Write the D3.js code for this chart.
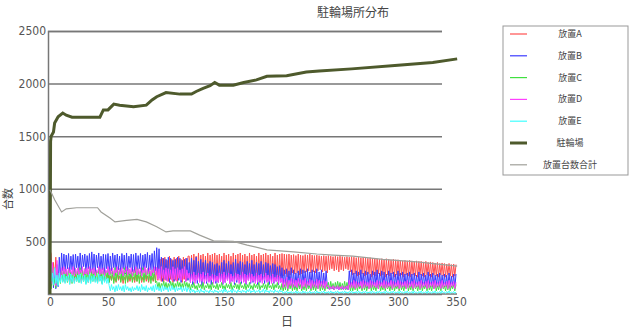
<!DOCTYPE html>
<meta charset="utf-8">
<script src="https://d3js.org/d3.v7.min.js"></script>
<style>
body { margin: 0; background: #fff; }
text { font-family: "Noto Sans CJK JP", "Liberation Sans", sans-serif; fill: #444; }
.tick text { font-family: "Liberation Sans Narrow", "DejaVu Sans Condensed", "Liberation Sans", sans-serif; font-size: 12px; fill: #555; }
.line { fill: none; }
</style>
<body>
<script>

// daily values, day 0 .. 350 (index = day)
var seriesA = [420,380,150,300,120,350,100,200,140,180,
  180,120,170,110,190,130,160,100,180,120,
  170,110,190,130,160,120,180,110,170,130,
  190,120,160,110,180,130,170,140,180,120,
  160,110,190,130,170,100,180,120,160,140,
  190,110,170,130,180,120,160,110,190,130,
  170,120,180,100,160,130,190,110,170,120,
  180,130,160,110,190,120,170,140,180,110,
  160,130,190,120,170,110,180,130,160,120,
  190,110,250,130,300,
  330,120,340,110,350,130,320,120,360,140,330,110,350,130,340,120,360,150,330,110,350,140,340,130,360,
  360,150,370,140,380,160,360,150,390,140,
  370,160,380,150,360,170,390,150,370,140,
  380,160,390,150,370,160,380,170,360,150,
  390,140,370,160,380,150,360,170,390,150,
  370,140,380,160,390,150,370,160,380,170,
  360,150,390,140,370,160,380,150,360,170,
  390,150,370,140,380,160,390,150,370,160,
  380,170,360,150,390,140,370,160,380,150,
  385,170,380,190,375,160,380,180,370,200,
  375,190,365,200,380,180,370,190,365,200,
  375,210,370,220,380,200,370,210,365,200,
  370,220,365,230,360,210,365,220,360,200,
  365,230,360,240,355,220,360,230,355,210,
  360,230,355,220,350,240,355,230,350,210,
  355,180,350,190,345,170,350,180,345,190,
  350,170,345,180,340,190,345,160,340,180,
  340,170,335,190,330,170,335,180,330,160,
  335,180,330,170,325,190,330,160,325,180,
  325,170,320,180,315,160,320,180,315,170,
  320,160,315,180,310,170,315,160,310,180,
  310,170,305,160,310,180,300,170,305,160,
  300,180,295,170,300,160,290,180,295,170,
  290,160,285,180,290,170,280,160,285,170,
  280];

var seriesB = [300,80,250,60,200,50,280,70,350,150,
  390,220,380,210,370,240,385,200,360,230,
  375,190,380,250,360,210,390,220,370,260,
  380,200,365,240,385,210,400,230,380,200,
  370,250,390,210,360,230,380,190,375,240,
  385,200,360,220,390,250,370,210,380,230,
  360,200,385,240,370,190,390,220,360,250,
  380,210,375,200,390,230,365,240,385,200,
  370,220,380,250,395,210,370,230,385,200,
  410,220,440,180,430,
  150,350,120,340,140,330,130,350,110,340,150,320,120,330,140,350,130,340,110,320,150,330,120,340,130,
  300,110,340,90,320,130,350,100,310,120,
  330,80,300,140,320,100,290,120,310,90,
  300,130,280,100,290,110,270,120,300,90,
  320,110,290,130,310,100,280,120,300,90,
  330,110,290,140,310,100,300,120,280,90,
  310,130,290,100,320,110,280,120,300,90,
  290,110,310,130,280,100,300,120,290,90,
  270,110,290,100,280,120,260,90,270,110,
  250,70,230,90,240,60,220,80,250,70,
  230,60,200,80,220,70,240,60,230,90,
  220,60,240,70,210,80,230,60,220,70,
  240,60,210,80,230,70,200,60,220,80,
  60,40,70,50,60,40,70,50,60,40,
  70,50,60,40,70,50,60,40,220,80,
  230,70,200,60,220,80,210,60,230,70,
  200,80,220,60,210,70,190,60,220,80,
  210,70,230,60,200,80,220,70,210,60,
  190,80,220,70,200,60,210,80,190,70,
  220,60,200,80,210,70,190,60,200,80,
  210,70,190,60,200,80,180,70,210,60,
  190,80,200,70,180,60,210,80,190,70,
  200,60,180,80,190,70,200,60,180,80,
  190,70,180,60,200,80,170,70,190,60,
  190];

var seriesC = [200,50,250,80,150,60,220,90,180,100,
  230,120,250,140,220,110,240,130,210,100,
  230,150,240,120,220,110,250,140,230,120,
  240,100,220,130,250,110,230,120,240,140,
  220,110,250,130,230,100,240,120,220,150,
  230,110,240,130,220,100,250,120,230,140,
  240,110,220,130,250,100,230,120,240,140,
  220,110,230,130,250,120,240,100,220,130,
  250,110,230,140,240,120,220,100,230,130,
  240,110,120,60,110,
  50,100,70,120,60,110,50,100,60,120,70,110,50,100,60,120,70,110,50,100,60,120,70,110,60,
  100,40,90,60,110,50,80,40,100,60,
  90,50,110,40,80,60,100,50,90,40,
  110,60,80,50,100,40,90,60,110,50,
  80,40,100,60,90,50,110,40,80,60,
  100,50,90,40,110,60,80,50,100,40,
  90,60,110,50,80,40,100,60,90,50,
  110,40,80,60,100,50,90,40,110,60,
  80,50,100,40,90,60,110,50,80,40,
  100,30,90,40,120,30,110,50,100,30,
  90,40,80,30,100,50,90,30,80,40,
  100,30,90,50,80,30,100,40,90,30,
  80,50,100,30,90,40,80,30,100,50,
  110,40,120,50,100,40,110,60,120,50,
  110,40,100,50,120,40,110,50,90,30,
  90,30,80,40,100,30,90,50,80,30,
  100,40,90,30,80,50,100,30,90,40,
  80,30,100,50,90,30,80,40,100,30,
  90,50,80,30,90,40,100,30,80,50,
  90,30,100,40,80,30,90,50,100,30,
  80,40,90,30,100,50,80,30,90,40,
  100,30,80,50,90,30,100,40,80,30,
  90,50,100,30,80,40,90,30,100,50,
  80,30,90,40,100,30,80,50,90,30,
  90];

var seriesD = [350,100,300,150,250,80,320,120,200,150,
  250,180,260,190,240,170,250,200,230,180,
  260,170,240,190,250,180,230,200,260,170,
  240,190,250,180,260,200,240,190,250,170,
  230,200,260,180,240,190,250,170,230,200,
  260,180,240,190,250,170,230,200,260,180,
  240,190,250,170,230,200,260,180,240,190,
  250,170,230,200,260,180,240,190,250,170,
  230,200,260,180,240,190,250,170,230,200,
  260,180,250,140,240,
  130,260,150,230,140,250,120,240,150,230,130,260,140,240,120,250,150,230,130,240,140,260,120,230,150,
  200,110,190,120,210,100,180,130,200,110,
  190,120,210,100,180,120,200,110,170,130,
  190,100,180,120,170,110,200,120,190,100,
  210,110,180,130,200,100,190,120,170,110,
  200,130,190,100,180,120,210,110,190,100,
  180,130,200,110,190,120,170,100,200,110,
  180,120,190,100,170,130,200,110,180,120,
  170,100,190,110,160,120,180,100,170,110,
  150,60,140,70,160,50,130,80,150,60,
  140,70,130,60,150,80,140,50,130,70,
  150,60,120,80,140,50,130,70,120,60,
  140,50,130,70,120,60,130,50,120,70,
  80,40,70,50,80,40,70,50,80,40,
  70,50,80,40,70,50,80,40,130,60,
  110,60,130,50,120,60,110,70,120,50,
  130,60,120,70,110,50,130,60,120,70,
  110,60,130,50,120,70,110,60,130,50,
  120,60,110,70,130,50,120,60,110,70,
  130,50,120,60,110,70,120,50,130,60,
  110,70,120,50,130,60,110,70,120,50,
  130,60,110,70,120,50,130,60,110,70,
  120,50,130,60,110,70,120,50,130,60,
  110,70,120,50,130,60,110,70,120,50,
  110];

var seriesE = [600,120,200,90,250,100,180,80,200,110,
  180,110,190,100,170,120,180,90,190,110,
  170,100,160,120,180,110,190,100,170,120,
  180,90,160,110,190,100,170,120,180,110,
  160,100,190,120,170,90,180,110,160,100,
  150,
  80,30,90,40,70,20,80,30,90,40,
  70,30,80,20,90,40,70,30,60,20,
  70,30,60,40,80,30,70,20,90,40,
  70,30,80,20,60,40,70,30,80,20,
  90,40,70,30,60,20,80,30,70,40,
  60,20,70,30,80,40,60,20,70,30,
  60,40,70,20,60,30,70,20,60,
  40,10,50,20,40,10,30,20,40,10,
  50,20,30,10,40,20,30,10,40,20,
  30,10,40,20,30,10,30,20,40,10,
  50,20,40,10,30,20,40,10,50,20,
  30,10,40,20,30,10,40,20,30,10,
  40,20,50,10,30,20,40,10,30,20,
  40,10,30,20,50,10,40,20,30,10,
  40,20,30,10,40,20,30,10,40,20,
  30,5,20,10,30,5,20,10,25,5,
  20,10,30,5,25,10,20,5,30,10,
  25,5,20,10,30,5,20,10,25,5,
  30,10,20,5,25,10,30,5,20,10,
  25,5,30,10,20,5,25,10,30,5,
  20,10,25,5,30,10,20,5,25,10,
  30,5,20,10,25,5,30,10,20,5,
  25,10,30,5,20,10,25,5,30,10,
  20,5,25,10,30,5,20,10,25,5,
  30,10,20,5,25,10,30,5,20,10,
  25,5,30,10,20,5,25,10,30,5,
  20,10,25,5,30,10,20,5,25,10,
  30,5,20,10,25,5,30,10,20,5,
  25,10,30,5,20,10,25,5,30,10,
  20,5,25,10,30,5,20,10,25,5,
  20];

// smoother lines, read at their break points
var parkDays = [0,0.5,1,3,4,7,11,14,19,43,46,50,55,60,72,83,88,92,100,112,122,126,132,138,142,146,158,167,178,187,204,221,232,260,300,330,351];
var parkVals = [0,1450,1500,1540,1625,1685,1720,1700,1680,1680,1750,1750,1805,1795,1780,1795,1845,1875,1915,1900,1900,1925,1955,1980,2010,1985,1985,2010,2035,2070,2075,2110,2120,2140,2175,2200,2235];

var totDays = [0,4,10,14,23,41,44,52,56,66,75,83,92,100,106,121,129,141,158,170,187,210,230,244,261,287,316,351];
var totVals = [990,895,780,810,820,820,780,720,685,700,710,685,640,590,600,600,560,505,500,465,420,400,380,370,360,330,305,265];

var xTicks = [0,50,100,150,200,250,300,350];
var yTicks = [500,1000,1500,2000,2500];

var names = ["放置A","放置B","放置C","放置D","放置E","駐輪場","放置台数合計"];
var colors = ["#ff5050","#3a3aff","#40e040","#ff40ff","#40ffff","#4e5a2c","#a0a09a"];
var widths = [1,1,1,1,1,3,1.2];

var svg = d3.select("body").append("svg")
    .attr("width", 637)
    .attr("height", 332);

var x = d3.scaleLinear().domain([0, 350]).range([50, 456]);
var y = d3.scaleLinear().domain([0, 2500]).range([294, 31]);

// grid + y axis
var yAxis = svg.append("g")
    .attr("transform", "translate(48,0)")
    .call(d3.axisLeft(y).tickValues(yTicks).tickFormat(d3.format("d")).tickSize(-394).tickPadding(2));
yAxis.select(".domain").attr("stroke", "#777").attr("stroke-width", 1.5);
yAxis.selectAll(".tick line").attr("stroke", "#777").attr("stroke-width", 1.5);

var xAxis = svg.append("g")
    .attr("transform", "translate(0,294)")
    .call(d3.axisBottom(x).tickValues(xTicks).tickFormat(d3.format("d")).tickSize(0).tickPadding(3));
xAxis.select(".domain").remove();

svg.append("line")
    .attr("x1", 48).attr("x2", 457)
    .attr("y1", 294).attr("y2", 294)
    .attr("stroke", "#777").attr("stroke-width", 1.5);

// lines
var noisy = [seriesA, seriesB, seriesC, seriesD, seriesE];
var line = d3.line().x(function(d) { return x(d[0]); }).y(function(d) { return y(d[1]); });

noisy.forEach(function(s, k) {
    svg.append("path")
        .attr("class", "line")
        .attr("d", line(s.map(function(v, i) { return [i, v]; })))
        .attr("stroke", colors[k])
        .attr("stroke-width", widths[k]);
});

svg.append("path")
    .attr("class", "line")
    .attr("d", line(parkDays.map(function(d, i) { return [d, parkVals[i]]; })))
    .attr("stroke", colors[5])
    .attr("stroke-width", widths[5]);

svg.append("path")
    .attr("class", "line")
    .attr("d", line(totDays.map(function(d, i) { return [d, totVals[i]]; })))
    .attr("stroke", colors[6])
    .attr("stroke-width", widths[6]);

// titles
svg.append("text")
    .attr("x", 353).attr("y", 17)
    .attr("text-anchor", "middle")
    .style("font-size", "12px")
    .text("駐輪場所分布");

svg.append("text")
    .attr("x", 287).attr("y", 326)
    .attr("text-anchor", "middle")
    .style("font-size", "12px")
    .text("日");

svg.append("text")
    .attr("transform", "translate(12,199) rotate(-90)")
    .attr("text-anchor", "middle")
    .style("font-size", "11px")
    .text("台数");

// legend
var legend = svg.append("g");
legend.append("rect")
    .attr("x", 503).attr("y", 26)
    .attr("width", 125).attr("height", 149)
    .attr("fill", "none")
    .attr("stroke", "#999");

var row = legend.selectAll(".row")
    .data(names)
  .enter().append("g")
    .attr("transform", function(d, i) { return "translate(0," + (34 + i * 21.8) + ")"; });

row.append("line")
    .attr("x1", 510).attr("x2", 527)
    .attr("stroke", function(d, i) { return colors[i]; })
    .attr("stroke-width", function(d, i) { return i == 5 ? 3 : 1.2; });

row.append("text")
    .attr("x", 570).attr("y", 3)
    .attr("text-anchor", "middle")
    .style("font-size", "9px")
    .text(function(d) { return d; });

</script>
</body>
